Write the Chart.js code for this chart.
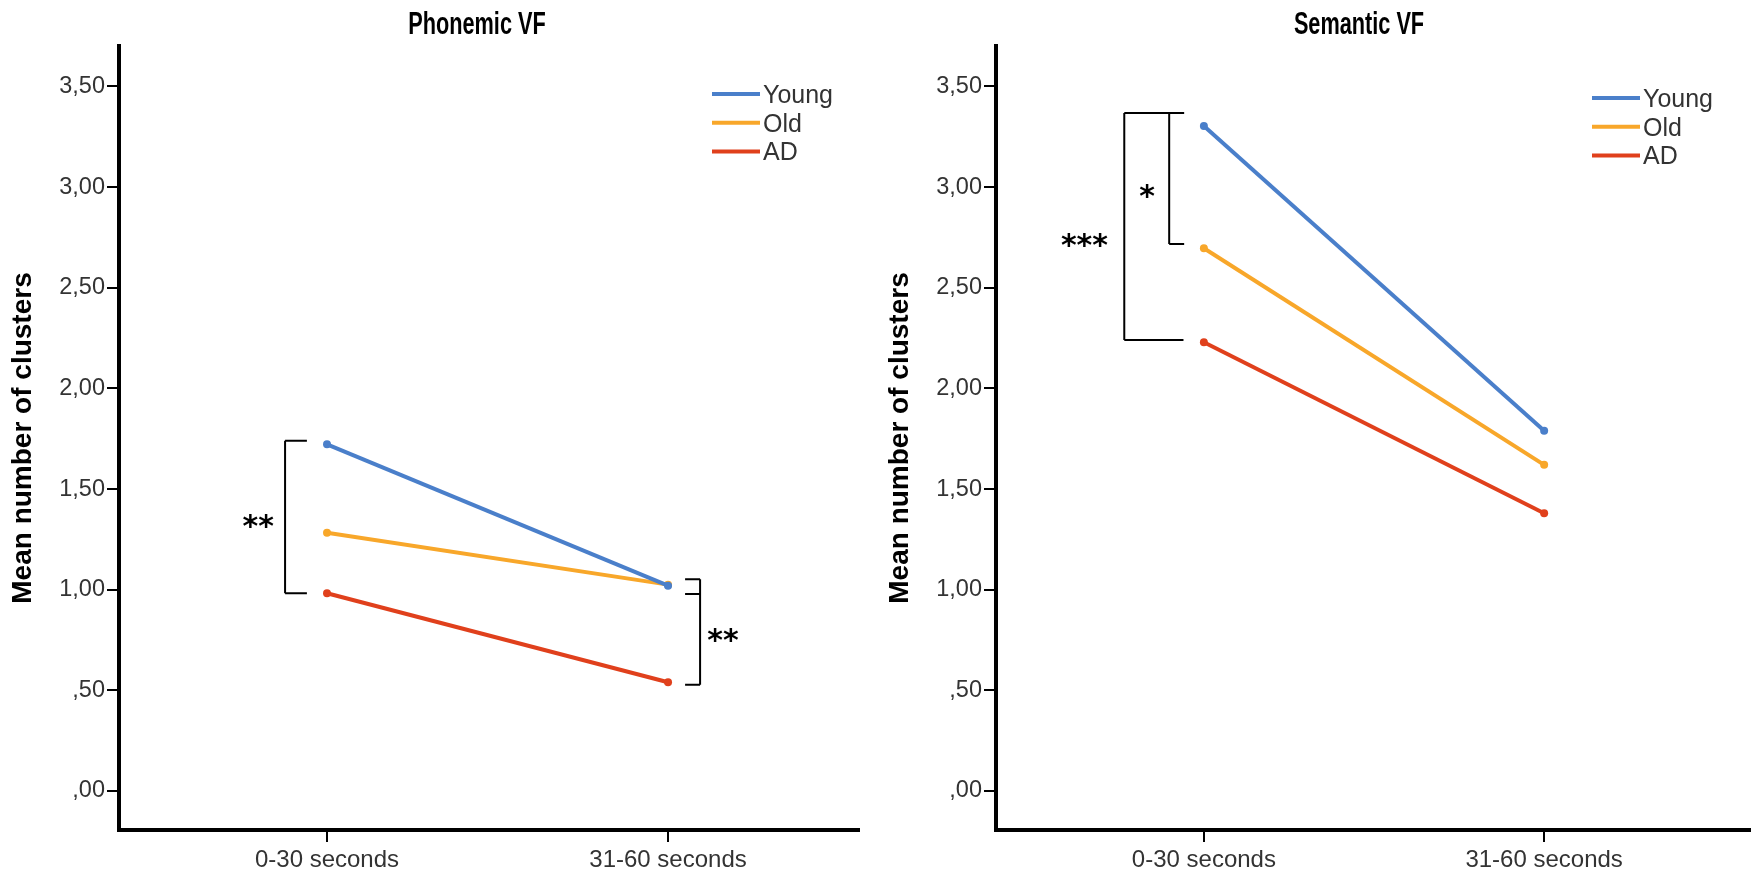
<!DOCTYPE html>
<html>
<head>
<meta charset="utf-8">
<title>Mean number of clusters - Phonemic / Semantic VF</title>
<script src="https://cdn.jsdelivr.net/npm/chart.js@4.4.1/dist/chart.umd.min.js"></script>
<style>
  html, body { margin: 0; padding: 0; background: #fff; }
  #wrap { position: relative; width: 1754px; height: 874px; }
  .panel { position: absolute; top: 0; width: 877px; height: 874px; }
  #leftPanel { left: 0; }
  #rightPanel { left: 877px; }
</style>
</head>
<body>
<div id="wrap">
  <div class="panel" id="leftPanel"><canvas id="phonemicChart" width="877" height="874"></canvas></div>
  <div class="panel" id="rightPanel"><canvas id="semanticChart" width="877" height="874"></canvas></div>
</div>
<script>
// categories
const timeBins = ['0-30 seconds', '31-60 seconds'];
const groupNames = ['Young', 'Old', 'AD'];

// phonemic VF means
const phonemicYoung = [1.722, 1.020];
const phonemicOld = [1.283, 1.025];
const phonemicAD = [0.982, 0.540];

// semantic VF means
const semanticYoung = [3.303, 1.790];
const semanticOld = [2.696, 1.620];
const semanticAD = [2.229, 1.380];

// y axis ticks
const yTickValues = [0, 0.5, 1, 1.5, 2, 2.5, 3, 3.5];
const yTickLabels = [',00', ',50', '1,00', '1,50', '2,00', '2,50', '3,00', '3,50'];

const groupColors = ['#4a7fca', '#f8a72a', '#e0401c'];
const FONT = '"Liberation Sans", Arial, sans-serif';

Chart.defaults.font.family = FONT;

document.addEventListener('DOMContentLoaded', function() {

    // narrow bold title (SPSS output uses a condensed face)
    function makeTitle(text, shift) {
        return {
            id: 'narrowTitle',
            afterDraw(chart) {
                const ctx = chart.ctx;
                const area = chart.chartArea;
                const cx = (area.left + area.right) / 2 + shift;
                ctx.save();
                ctx.translate(cx, 25);
                ctx.scale(0.7, 1);
                ctx.fillStyle = '#000';
                ctx.font = 'bold 31px ' + FONT;
                ctx.textAlign = 'center';
                ctx.textBaseline = 'middle';
                ctx.fillText(text, 0, 0);
                ctx.restore();
            }
        };
    }

    // legend drawn as plain line + label
    function makeLegend(x, y) {
        return {
            id: 'lineLegend',
            afterDraw(chart) {
                const ctx = chart.ctx;
                ctx.save();
                chart.data.datasets.forEach(function(ds, i) {
                    const ly = y + i * 28.7;
                    ctx.strokeStyle = ds.borderColor;
                    ctx.lineWidth = 4;
                    ctx.beginPath();
                    ctx.moveTo(x, ly);
                    ctx.lineTo(x + 48, ly);
                    ctx.stroke();
                    ctx.fillStyle = '#333';
                    ctx.font = '25px ' + FONT;
                    ctx.textAlign = 'left';
                    ctx.textBaseline = 'alphabetic';
                    ctx.fillText(ds.label, x + 51, ly + 9);
                });
                ctx.restore();
            }
        };
    }

    // significance brackets and stars, given in data units
    function makeBrackets(brackets, stars) {
        return {
            id: 'sigBrackets',
            afterDatasetsDraw(chart) {
                const ctx = chart.ctx;
                const xs = chart.scales.x;
                const ys = chart.scales.y;
                ctx.save();
                ctx.strokeStyle = '#000';
                ctx.lineWidth = 2;
                brackets.forEach(function(b) {
                    const px = xs.getPixelForValue(b.x);
                    const pa = xs.getPixelForValue(b.arm);
                    const pys = b.ys.map(v => ys.getPixelForValue(v));
                    ctx.beginPath();
                    ctx.moveTo(px, Math.min.apply(null, pys));
                    ctx.lineTo(px, Math.max.apply(null, pys));
                    pys.forEach(function(py) {
                        ctx.moveTo(px, py);
                        ctx.lineTo(pa, py);
                    });
                    ctx.stroke();
                });
                ctx.fillStyle = '#000';
                ctx.font = 'bold 30px "DejaVu Sans", sans-serif';
                ctx.textAlign = 'center';
                ctx.textBaseline = 'alphabetic';
                stars.forEach(function(s) {
                    ctx.fillText(s.text, xs.getPixelForValue(s.x), ys.getPixelForValue(s.y) + 18);
                });
                ctx.restore();
            }
        };
    }

    function buildDatasets(series) {
        return series.map(function(values, i) {
            return {
                label: groupNames[i],
                data: values.map((v, k) => ({ x: k, y: v })),
                borderColor: groupColors[i],
                backgroundColor: groupColors[i],
                borderWidth: 4,
                pointRadius: 4,
                pointHoverRadius: 4,
                pointBorderWidth: 0,
                tension: 0
            };
        });
    }

    function createChart(canvasId, series, xRange, rightPad, plugins) {
        const ctx = document.getElementById(canvasId).getContext('2d');
        return new Chart(ctx, {
            type: 'line',
            data: { datasets: buildDatasets(series) },
            plugins: plugins,
            options: {
                responsive: false,
                animation: false,
                devicePixelRatio: 1,
                layout: { padding: { left: 0, right: rightPad, top: 46, bottom: 0 } },
                plugins: {
                    legend: { display: false },
                    tooltip: { enabled: false },
                    title: { display: false }
                },
                scales: {
                    x: {
                        type: 'linear',
                        min: xRange[0],
                        max: xRange[1],
                        afterBuildTicks: function(scale) {
                            scale.ticks = timeBins.map((_, i) => ({ value: i }));
                        },
                        afterFit: function(scale) {
                            scale.height = 44;
                            scale.paddingLeft = 0;
                            scale.paddingRight = 0;
                        },
                        ticks: {
                            callback: (v, i) => timeBins[i],
                            color: '#333',
                            font: { size: 24 },
                            padding: 4,
                            maxRotation: 0,
                            autoSkip: false
                        },
                        grid: { drawOnChartArea: false, tickLength: 12, color: '#000', lineWidth: 2 },
                        border: { display: true, color: '#000', width: 4 }
                    },
                    y: {
                        min: -0.194,
                        max: 3.701,
                        afterBuildTicks: function(scale) {
                            scale.ticks = yTickValues.map(v => ({ value: v }));
                        },
                        afterFit: function(scale) {
                            scale.width = 119;
                            scale.paddingTop = 0;
                            scale.paddingBottom = 0;
                        },
                        ticks: {
                            callback: (v, i) => yTickLabels[i],
                            color: '#333',
                            font: { size: 23.5 },
                            padding: 2
                        },
                        grid: { drawOnChartArea: false, tickLength: 12, color: '#000', lineWidth: 2 },
                        border: { display: true, color: '#000', width: 4 },
                        title: {
                            display: true,
                            text: 'Mean number of clusters',
                            color: '#000',
                            font: { size: 28, weight: 'bold', lineHeight: 1.2 },
                            padding: { top: 6, bottom: 0 }
                        }
                    }
                }
            }
        });
    }

    // Phonemic VF (left)
    createChart('phonemicChart',
        [phonemicYoung, phonemicOld, phonemicAD],
        [-0.610, 1.560], 18,
        [
            makeTitle('Phonemic VF', -12),
            makeLegend(712, 94),
            makeBrackets(
                [
                    { x: -0.123, arm: -0.059, ys: [1.740, 0.982] },
                    { x: 1.094, arm: 1.050, ys: [1.052, 0.979, 0.527] }
                ],
                [
                    { text: '**', x: -0.202, y: 1.356 },
                    { text: '**', x: 1.161, y: 0.790 }
                ]
            )
        ]);

    // Semantic VF (right)
    createChart('semanticChart',
        [semanticYoung, semanticOld, semanticAD],
        [-0.611, 1.605], 0,
        [
            makeTitle('Semantic VF', -14),
            makeLegend(715, 98),
            makeBrackets(
                [
                    { x: -0.234, arm: -0.060, ys: [3.368, 2.240] },
                    { x: -0.102, arm: -0.058, ys: [3.368, 2.717] }
                ],
                [
                    { text: '*', x: -0.167, y: 2.996 },
                    { text: '***', x: -0.351, y: 2.752 }
                ]
            )
        ]);
});
</script>
</body>
</html>
